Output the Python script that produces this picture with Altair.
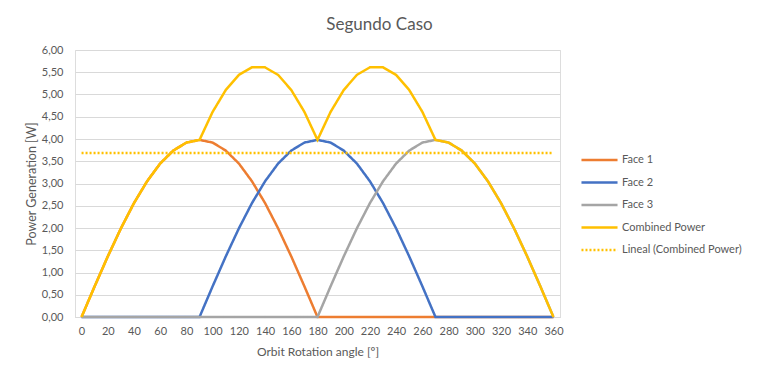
import altair as alt
import pandas as pd

angles = list(range(0, 361, 10))
face1 = [0, 0.69, 1.36, 1.99, 2.56, 3.05, 3.45, 3.74, 3.92, 3.98, 3.92, 3.74, 3.45, 3.05, 2.56, 1.99, 1.36, 0.69, 0,
         0, 0, 0, 0, 0, 0, 0, 0, 0, 0, 0, 0, 0, 0, 0, 0, 0, 0]
face2 = [0, 0, 0, 0, 0, 0, 0, 0, 0,
         0, 0.69, 1.36, 1.99, 2.56, 3.05, 3.45, 3.74, 3.92, 3.98, 3.92, 3.74, 3.45, 3.05, 2.56, 1.99, 1.36, 0.69, 0,
         0, 0, 0, 0, 0, 0, 0, 0, 0]
face3 = [0, 0, 0, 0, 0, 0, 0, 0, 0, 0, 0, 0, 0, 0, 0, 0, 0, 0,
         0, 0.69, 1.36, 1.99, 2.56, 3.05, 3.45, 3.74, 3.92, 3.98, 3.92, 3.74, 3.45, 3.05, 2.56, 1.99, 1.36, 0.69, 0]
combined = [0, 0.69, 1.36, 1.99, 2.56, 3.05, 3.45, 3.74, 3.92, 3.98, 4.61, 5.10, 5.44, 5.61, 5.61, 5.44, 5.10, 4.61,
            3.98, 4.61, 5.10, 5.44, 5.61, 5.61, 5.44, 5.10, 4.61, 3.98, 3.92, 3.74, 3.45, 3.05, 2.56, 1.99, 1.36, 0.69, 0]
trend_x = [0, 360]
trend_y = [3.68526511, 3.68526511]

series_names = ["Face 1", "Face 2", "Face 3", "Combined Power", "Lineal (Combined Power)"]
series_colors = ["#ED7D31", "#4472C4", "#A5A5A5", "#FFC000", "#FFC000"]
series_dash = [[1, 0], [1, 0], [1, 0], [1, 0], [2, 2]]
series_width = [2.5, 2.5, 2.5, 2.8, 1.5]

rows = []
order = 0
for name, vals in zip(series_names[:4], [face1, face2, face3, combined]):
    for a, v in zip(angles, vals):
        rows.append({"angle": a, "power": v, "series": name, "ord": order})
    order += 1
for a, v in zip(trend_x, trend_y):
    rows.append({"angle": a, "power": v, "series": series_names[4], "ord": order})
df = pd.DataFrame(rows)

FONT = "Lato"
GREY_TXT = "#595959"

legend = alt.Legend(
    title=None, orient="none", legendX=505, legendY=104,
    labelFont=FONT, labelFontSize=11, labelColor=GREY_TXT,
    symbolType="M-1,0L1,0", symbolSize=1300, rowPadding=10.5, labelOffset=3,
    clipHeight=12,
)

chart = alt.Chart(df).mark_line().encode(
    x=alt.X("angle:Q", scale=alt.Scale(domain=[-5, 365], nice=False, zero=False),
            axis=alt.Axis(values=list(range(0, 361, 20)), title="Orbit Rotation angle [º]",
                          grid=False, ticks=False, domain=True, domainColor="#D9D9D9",
                          labelFont=FONT, labelFontSize=11, labelColor=GREY_TXT, labelPadding=8,
                          titleFont=FONT, titleFontSize=12, titleFontWeight="normal",
                          titleColor=GREY_TXT, titlePadding=10, labelFlush=False)),
    y=alt.Y("power:Q", scale=alt.Scale(domain=[0, 6], nice=False),
            axis=alt.Axis(values=[i * 0.5 for i in range(13)],
                          labelExpr="replace(format(datum.value, '.2f'), '.', ',')",
                          title="Power Generation [W]", grid=True, gridColor="#D9D9D9",
                          ticks=False, domain=False,
                          labelFont=FONT, labelFontSize=11, labelColor=GREY_TXT, labelPadding=12,
                          titleFont=FONT, titleFontSize=12.5, titleFontWeight="normal",
                          titleColor=GREY_TXT, titlePadding=3)),
    color=alt.Color("series:N", scale=alt.Scale(domain=series_names, range=series_colors), legend=legend),
    strokeDash=alt.StrokeDash("series:N", scale=alt.Scale(domain=series_names, range=series_dash), legend=legend),
    strokeWidth=alt.StrokeWidth("series:N", scale=alt.Scale(domain=series_names, range=series_width), legend=legend),
    order=alt.Order("ord:Q"),
).properties(
    width=485, height=267,
    title=alt.TitleParams("Segundo Caso", font=FONT, fontSize=17, fontWeight="normal",
                          color=GREY_TXT, anchor="middle", dx=62, offset=10),
    autosize=alt.AutoSizeParams(type="none"),
    padding={"left": 67, "top": 42, "right": 196, "bottom": 63},
).configure_view(stroke=None).configure(background="white")

chart.save("out.html", embed_options={"renderer": "svg", "actions": False})
